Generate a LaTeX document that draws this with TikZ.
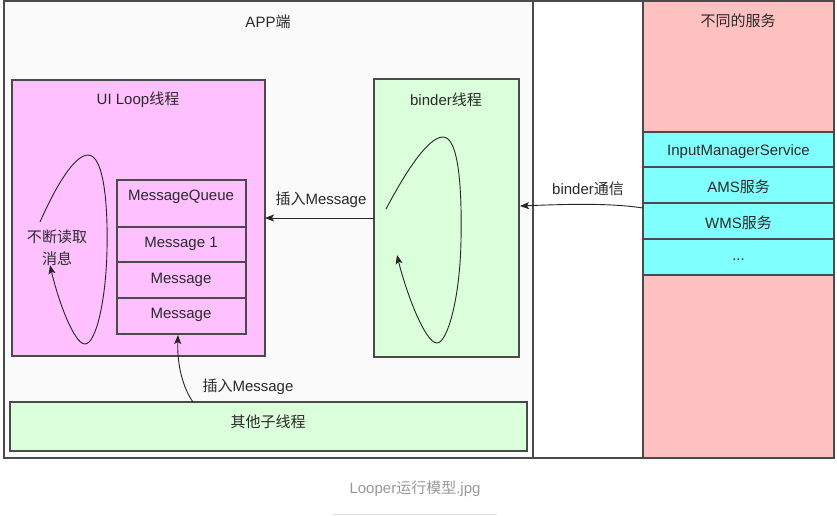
\documentclass[tikz,border=0pt]{standalone}
\usepackage{fontspec}
\setmainfont{Liberation Sans}
\newfontfamily\cjk{Noto Sans CJK SC}
\usetikzlibrary{arrows.meta}
\definecolor{linec}{HTML}{4A4A4A}
\definecolor{txtc}{HTML}{2A2A2A}
\definecolor{appc}{HTML}{FAFAFA}
\definecolor{pinkc}{HTML}{FFC0C0}
\definecolor{magc}{HTML}{FFC0FF}
\definecolor{greenc}{HTML}{DAFFDA}
\definecolor{cyanc}{HTML}{80FFFF}
\definecolor{capc}{HTML}{999999}
\tikzset{
  box/.style={draw=linec, line width=1.1pt, anchor=north west, inner sep=0pt, outer sep=0pt},
  lbl/.style={text=txtc, inner sep=1pt, yshift=-2pt},
  arr/.style={-{Stealth[length=9pt,width=7pt,inset=2pt]}, line width=0.9pt, draw=black!85},
  loopc/.style={line width=0.9pt, draw=black!85},
}
\begin{document}
\begin{tikzpicture}[x=1pt,y=-1pt,font=\fontsize{15}{18}\selectfont]
\useasboundingbox[fill=white] (0,0) rectangle (837,515);
% frames
\node[box, fill=white, minimum width=830, minimum height=457] (frame) at (4,1) {};
\node[box, fill=appc, minimum width=529, minimum height=457] (app) at (4,1) {};
\node[box, fill=pinkc, minimum width=191, minimum height=457] (svc) at (643,1) {};
% services
\node[box, fill=cyanc, minimum width=191, minimum height=35] (ims) at (643,132) {};
\node[box, fill=cyanc, minimum width=191, minimum height=36] (ams) at (643,167) {};
\node[box, fill=cyanc, minimum width=191, minimum height=36] (wms) at (643,203) {};
\node[box, fill=cyanc, minimum width=191, minimum height=36] (dots) at (643,239) {};
% UI loop
\node[box, fill=magc, minimum width=253, minimum height=276] (ui) at (12,80) {};
\node[box, fill=magc, minimum width=129, minimum height=47] (mq) at (117,180) {};
\node[box, fill=magc, minimum width=129, minimum height=35] (m1) at (117,227) {};
\node[box, fill=magc, minimum width=129, minimum height=36] (m2) at (117,262) {};
\node[box, fill=magc, minimum width=129, minimum height=36] (m3) at (117,298) {};
% binder
\node[box, fill=greenc, minimum width=145, minimum height=278] (binder) at (374,79) {};
% other
\node[box, fill=greenc, minimum width=517, minimum height=49] (other) at (10,402) {};
% labels
\node[lbl] (tapp) at (268,20) {APP{\cjk 端}};
\node[lbl] (tsvc) at (738,19) {{\cjk 不同的服务}};
\node[lbl] (tims) at (ims.center) {InputManagerService};
\node[lbl] (tams) at (ams.center) {AMS{\cjk 服务}};
\node[lbl] (twms) at (wms.center) {WMS{\cjk 服务}};
\node[lbl] (tdots) at ([yshift=-1pt]dots.center) {...};
\node[lbl] (tui) at (138,98) {UI Loop{\cjk 线程}};
\node[lbl] (tmq) at (181,195) {MessageQueue};
\node[lbl] (tm1) at (181,242) {Message 1};
\node[lbl] (tm2) at (181,278) {Message};
\node[lbl] (tm3) at (181,313) {Message};
\node[lbl] (tbinder) at (446,98) {binder{\cjk 线程}};
\node[lbl] (tother) at (268,420) {{\cjk 其他子线程}};
\node[lbl, align=center, font=\fontsize{15}{22}\selectfont\cjk] (tread) at (57,246) {不断读取\\消息};
% arrows
\draw[arr] (binder.west) -- (ui.east);
\node[lbl] (tins1) at (321,198) {{\cjk 插入}Message};
\coordinate (bsrc) at (643,208);
\coordinate (bdst) at (520,206);
\draw[arr] (bsrc) .. controls (610,203) and (570,204) .. (bdst);
\node[lbl] (tbc) at (588,187) {binder{\cjk 通信}};
\coordinate (osrc) at (193,402);
\coordinate (odst) at (178,335);
\draw[arr] (osrc) .. controls (183,388) and (177,365) .. (odst);
\node[lbl] (tins2) at (248,385) {{\cjk 插入}Message};
% loops
\draw[loopc, -{Stealth[length=9pt,width=7pt,inset=2pt]}] (40,222) .. controls (55,188) and (74,155) .. (88,155)
  .. controls (104,155) and (108,205) .. (107,250)
  .. controls (106,300) and (96,344) .. (85,344)
  .. controls (74,344) and (58,300) .. (50,265);
\draw[loopc, -{Stealth[length=9pt,width=7pt,inset=2pt]}] (386,209) .. controls (403,177) and (427,137) .. (443,137)
  .. controls (459,137) and (462,190) .. (461,240)
  .. controls (460,300) and (447,343) .. (437,343)
  .. controls (425,343) and (406,292) .. (397,255);
% caption
\node[text=capc, inner sep=0pt] (cap) at (415,489) {Looper{\cjk 运行模型}.jpg};
\draw[draw=black!12, line width=1pt] (333,514) -- (497,514);
\end{tikzpicture}
\end{document}
